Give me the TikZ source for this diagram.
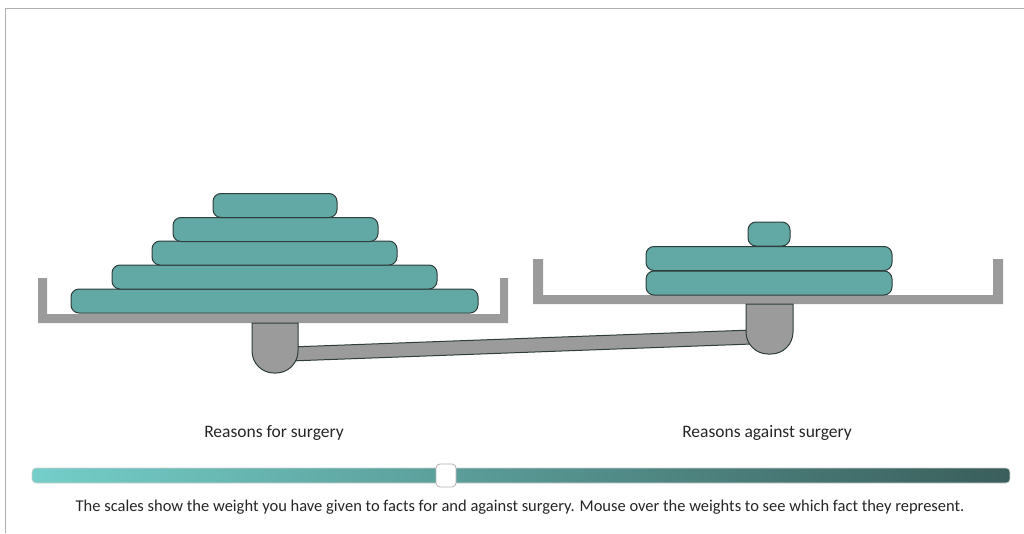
\documentclass[tikz,border=0pt]{standalone}
\usepackage{fontspec}
\setmainfont{Carlito}
\definecolor{weightfill}{HTML}{62A8A4}
\definecolor{weightline}{HTML}{2E3E3C}
\definecolor{pangray}{HTML}{9B9B9B}
\definecolor{framegray}{HTML}{B0B0B0}
\definecolor{sliderlight}{HTML}{74CEC9}
\definecolor{sliderdark}{HTML}{3A5E5B}
\definecolor{textgray}{HTML}{262626}
\tikzset{
  weight/.style={draw=weightline, fill=weightfill, line width=1pt, rounded corners=8pt, inner sep=0pt, minimum height=24pt},
  pan/.style={fill=pangray, draw=none},
  pivot/.style={fill=pangray, draw=weightline, line width=1pt},
  lbl/.style={font=\fontsize{17.5}{20}\selectfont, text=textgray, inner sep=0pt},
  captiontext/.style={font=\fontsize{16.5}{20}\selectfont, text=textgray, inner sep=0pt}
}
\begin{document}
\begin{tikzpicture}[x=1pt,y=-1pt]
\useasboundingbox (0,0) rectangle (1024,533);
\fill[white] (0,0) rectangle (1024,533);
% frame
\draw[framegray, line width=1pt] (5,533) -- (5,8) -- (1024,8);
% beam
\draw[pivot] (290,347) -- (752,330) -- (752,344) -- (290,361) -- cycle;
% left pan
\fill[pan] (38,278) -- (47,278) -- (47,314) -- (500,314) -- (500,278) -- (508,278) -- (508,323) -- (38,323) -- cycle;
% right pan
\fill[pan] (533,259) -- (543,259) -- (543,295) -- (993,295) -- (993,259) -- (1003,259) -- (1003,304) -- (533,304) -- cycle;
% pivots
\draw[pivot] (252,323) [rounded corners=22pt] -- (252,373) -- (298,373) [sharp corners] -- (298,323) -- cycle;
\draw[pivot] (746,304) [rounded corners=22pt] -- (746,354) -- (793,354) [sharp corners] -- (793,304) -- cycle;
% left weights
\node[weight, minimum width=407pt] (l1) at (274.5,301) {};
\node[weight, minimum width=325pt] (l2) at (274.5,277) {};
\node[weight, minimum width=245pt] (l3) at (274.5,253) {};
\node[weight, minimum width=205pt] (l4) at (275.5,229.5) {};
\node[weight, minimum width=124pt] (l5) at (275,205.5) {};
% right weights
\node[weight, minimum width=246pt] (r1) at (769,283) {};
\node[weight, minimum width=246pt] (r2) at (769,258.5) {};
\node[weight, minimum width=42pt] (r3) at (769,234) {};
% labels
\node[lbl] (lfor) at (274,433) {Reasons for surgery};
\node[lbl] (lagainst) at (767,433) {Reasons against surgery};
% slider
\shade[left color=sliderlight, right color=sliderdark, rounded corners=4pt] (32,468) rectangle (1010,483);
\draw[framegray!60, line width=0.6pt, rounded corners=4pt] (32,468) rectangle (1010,483);
\draw[fill=white, draw=black!30, line width=0.8pt, rounded corners=4pt] (436,464) rectangle (456,487);
\node[captiontext] (caption) at (520,507) {The scales show the weight you have given to facts for and against surgery. Mouse over the weights to see which fact they represent.};
\end{tikzpicture}
\end{document}
